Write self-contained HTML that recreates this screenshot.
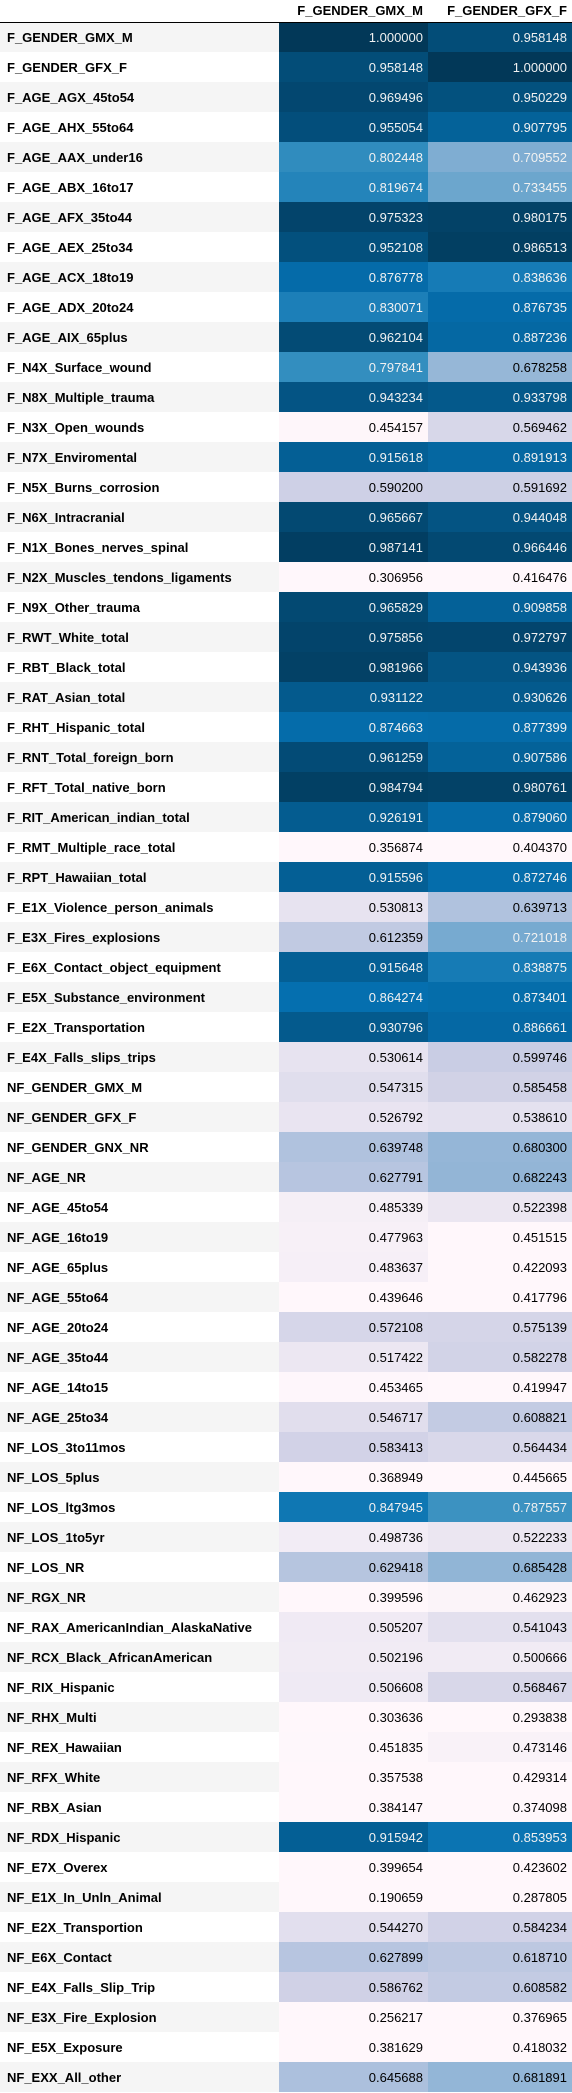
<!DOCTYPE html>
<html><head><meta charset="utf-8">
<style>
body{margin:0;background:#fff;font-family:"Liberation Sans",sans-serif;}
table{border-collapse:collapse;width:572px;table-layout:fixed;font-size:13px;}
th,td{height:30px;padding:0;box-sizing:border-box;}
thead th{height:22px;font-weight:bold;text-align:right;padding-right:5px;border-bottom:1px solid #000;vertical-align:middle;}
tbody th{text-align:left;padding-left:7px;font-weight:bold;}
tbody tr:nth-child(odd) th{background:#f5f5f5;}
td{text-align:right;padding-right:5px;}
</style></head><body>
<table>
<colgroup><col style="width:279px"><col style="width:149px"><col style="width:144px"></colgroup>
<thead><tr><th></th><th>F_GENDER_GMX_M</th><th>F_GENDER_GFX_F</th></tr></thead>
<tbody id="tb"></tbody></table>
<script>
const labels=["F_GENDER_GMX_M","F_GENDER_GFX_F","F_AGE_AGX_45to54","F_AGE_AHX_55to64","F_AGE_AAX_under16","F_AGE_ABX_16to17","F_AGE_AFX_35to44","F_AGE_AEX_25to34","F_AGE_ACX_18to19","F_AGE_ADX_20to24","F_AGE_AIX_65plus","F_N4X_Surface_wound","F_N8X_Multiple_trauma","F_N3X_Open_wounds","F_N7X_Enviromental","F_N5X_Burns_corrosion","F_N6X_Intracranial","F_N1X_Bones_nerves_spinal","F_N2X_Muscles_tendons_ligaments","F_N9X_Other_trauma","F_RWT_White_total","F_RBT_Black_total","F_RAT_Asian_total","F_RHT_Hispanic_total","F_RNT_Total_foreign_born","F_RFT_Total_native_born","F_RIT_American_indian_total","F_RMT_Multiple_race_total","F_RPT_Hawaiian_total","F_E1X_Violence_person_animals","F_E3X_Fires_explosions","F_E6X_Contact_object_equipment","F_E5X_Substance_environment","F_E2X_Transportation","F_E4X_Falls_slips_trips","NF_GENDER_GMX_M","NF_GENDER_GFX_F","NF_GENDER_GNX_NR","NF_AGE_NR","NF_AGE_45to54","NF_AGE_16to19","NF_AGE_65plus","NF_AGE_55to64","NF_AGE_20to24","NF_AGE_35to44","NF_AGE_14to15","NF_AGE_25to34","NF_LOS_3to11mos","NF_LOS_5plus","NF_LOS_ltg3mos","NF_LOS_1to5yr","NF_LOS_NR","NF_RGX_NR","NF_RAX_AmericanIndian_AlaskaNative","NF_RCX_Black_AfricanAmerican","NF_RIX_Hispanic","NF_RHX_Multi","NF_REX_Hawaiian","NF_RFX_White","NF_RBX_Asian","NF_RDX_Hispanic","NF_E7X_Overex","NF_E1X_In_Unln_Animal","NF_E2X_Transportion","NF_E6X_Contact","NF_E4X_Falls_Slip_Trip","NF_E3X_Fire_Explosion","NF_E5X_Exposure","NF_EXX_All_other"];
const colM=[1.000000,0.958148,0.969496,0.955054,0.802448,0.819674,0.975323,0.952108,0.876778,0.830071,0.962104,0.797841,0.943234,0.454157,0.915618,0.590200,0.965667,0.987141,0.306956,0.965829,0.975856,0.981966,0.931122,0.874663,0.961259,0.984794,0.926191,0.356874,0.915596,0.530813,0.612359,0.915648,0.864274,0.930796,0.530614,0.547315,0.526792,0.639748,0.627791,0.485339,0.477963,0.483637,0.439646,0.572108,0.517422,0.453465,0.546717,0.583413,0.368949,0.847945,0.498736,0.629418,0.399596,0.505207,0.502196,0.506608,0.303636,0.451835,0.357538,0.384147,0.915942,0.399654,0.190659,0.544270,0.627899,0.586762,0.256217,0.381629,0.645688];
const colF=[0.958148,1.000000,0.950229,0.907795,0.709552,0.733455,0.980175,0.986513,0.838636,0.876735,0.887236,0.678258,0.933798,0.569462,0.891913,0.591692,0.944048,0.966446,0.416476,0.909858,0.972797,0.943936,0.930626,0.877399,0.907586,0.980761,0.879060,0.404370,0.872746,0.639713,0.721018,0.838875,0.873401,0.886661,0.599746,0.585458,0.538610,0.680300,0.682243,0.522398,0.451515,0.422093,0.417796,0.575139,0.582278,0.419947,0.608821,0.564434,0.445665,0.787557,0.522233,0.685428,0.462923,0.541043,0.500666,0.568467,0.293838,0.473146,0.429314,0.374098,0.853953,0.423602,0.287805,0.584234,0.618710,0.608582,0.376965,0.418032,0.681891];
const colorDomain=[0.45,1.0];
const pubu=["#fff7fb","#ece7f2","#d0d1e6","#a6bddb","#74a9cf","#3690c0","#0570b0","#045a8d","#023858"];
function hex(h){return [1,3,5].map(i=>parseInt(h.substr(i,2),16));}
function cmap(t){t=Math.max(0,Math.min(1,t));const p=t*8,i=Math.min(7,Math.floor(p)),f=p-i;const a=hex(pubu[i]),b=hex(pubu[i+1]);return a.map((v,k)=>Math.round(v+(b[k]-v)*f));}
function lum(c){const l=c.map(v=>{v/=255;return v<=0.03928?v/12.92:Math.pow((v+0.055)/1.055,2.4)});return 0.2126*l[0]+0.7152*l[1]+0.0722*l[2];}
const cols=[colM,colF];
const tb=document.getElementById('tb');
labels.forEach((lab,r)=>{
  const tr=document.createElement('tr');
  
  
  const th=document.createElement('th');
  
  
  th.textContent=lab;tr.appendChild(th);
  cols.forEach((col)=>{
    const c=cmap((col[r]-colorDomain[0])/(colorDomain[1]-colorDomain[0]));
    const td=document.createElement('td');
    
    
    td.style.background='rgb('+c.join(',')+')';
    td.style.color=lum(c)<0.408?'#f1f1f1':'#000';
    td.textContent=col[r].toFixed(6);
    tr.appendChild(td);
  });
  tb.appendChild(tr);
});
</script>
</body></html>
